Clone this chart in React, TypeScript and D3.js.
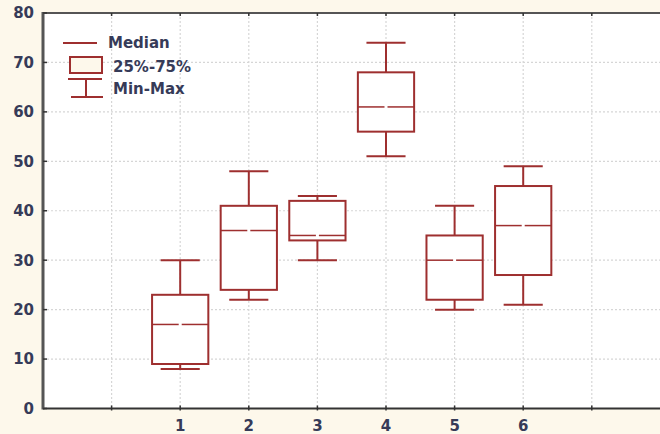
import React, { useEffect, useRef } from "react";
import * as d3 from "d3";

// box plot values per group
const groups = ["1", "2", "3", "4", "5", "6"];
const minVals = [8, 22, 30, 51, 20, 21];
const q1Vals = [9, 24, 34, 56, 22, 27];
const medianVals = [17, 36, 35, 61, 30, 37];
const q3Vals = [23, 41, 42, 68, 35, 45];
const maxVals = [30, 48, 43, 74, 41, 49];
const yTicks = [0, 10, 20, 30, 40, 50, 60, 70, 80];
const xTickPos = [1, 2, 3, 4, 5, 6, 7, 8];

const W = 660;
const H = 434;
const RED = "#9e2f2f";
const TEXT = "#363b58";
const FONT = "'DejaVu Sans', Verdana, sans-serif";

function App() {
  const ref = useRef<SVGSVGElement>(null);

  useEffect(() => {
    const svg = d3.select(ref.current);
    svg.selectAll("*").remove();

    const x = d3.scaleLinear().domain([0, 9]).range([43, 660.4]);
    const y = d3.scaleLinear().domain([0, 80]).range([408.5, 13]);

    // background
    svg.append("rect").attr("width", W).attr("height", H).attr("fill", "#fdf8eb");
    svg
      .append("rect")
      .attr("x", x(0))
      .attr("y", y(80))
      .attr("width", W - x(0))
      .attr("height", y(0) - y(80))
      .attr("fill", "#ffffff");

    // grid
    const grid = svg.append("g").attr("stroke", "#d6d6d6").attr("stroke-dasharray", "2,2").attr("stroke-width", 1.2);
    yTicks.slice(1, -1).forEach((t) => {
      grid.append("line").attr("x1", x(0)).attr("x2", W).attr("y1", y(t)).attr("y2", y(t));
    });
    xTickPos.forEach((t) => {
      grid.append("line").attr("x1", x(t)).attr("x2", x(t)).attr("y1", y(80)).attr("y2", y(0));
    });

    // axes
    svg
      .append("line")
      .attr("x1", x(0))
      .attr("x2", W)
      .attr("y1", y(80))
      .attr("y2", y(80))
      .attr("stroke", "#555")
      .attr("stroke-width", 2);
    svg
      .append("line")
      .attr("x1", x(0))
      .attr("x2", W)
      .attr("y1", y(0))
      .attr("y2", y(0))
      .attr("stroke", "#333")
      .attr("stroke-width", 2);
    svg
      .append("line")
      .attr("x1", x(0))
      .attr("x2", x(0))
      .attr("y1", y(80) - 1)
      .attr("y2", y(0) + 1)
      .attr("stroke", "#555")
      .attr("stroke-width", 3);

    // y ticks + labels
    yTicks.forEach((t) => {
      svg
        .append("line")
        .attr("x1", x(0))
        .attr("x2", x(0) + 4)
        .attr("y1", y(t))
        .attr("y2", y(t))
        .attr("stroke", "#333")
        .attr("stroke-width", 1.5);
      svg
        .append("text")
        .attr("x", 34)
        .attr("y", y(t))
        .attr("dy", "0.36em")
        .attr("text-anchor", "end")
        .attr("font-family", FONT)
        .attr("font-size", 15)
        .attr("font-weight", "bold")
        .attr("fill", TEXT)
        .text(t);
    });

    // x ticks
    xTickPos.forEach((t) => {
      [y(0), y(80)].forEach((yy, i) => {
        svg
          .append("line")
          .attr("x1", x(t))
          .attr("x2", x(t))
          .attr("y1", yy - (i === 0 ? 3 : 0))
          .attr("y2", yy + (i === 0 ? 2 : 3))
          .attr("stroke", "#333")
          .attr("stroke-width", 1.5);
      });
    });
    groups.forEach((g, i) => {
      svg
        .append("text")
        .attr("x", x(i + 2))
        .attr("y", 430.5)
        .attr("text-anchor", "middle")
        .attr("font-family", FONT)
        .attr("font-size", 15)
        .attr("font-weight", "bold")
        .attr("fill", TEXT)
        .text(g);
    });

    // boxes
    const boxW = 0.82;
    const capW = 0.57;
    const boxes = svg.append("g").attr("stroke", RED).attr("stroke-width", 2).attr("fill", "none");
    groups.forEach((g, i) => {
      const c = i + 2;
      // whiskers
      boxes.append("line").attr("x1", x(c)).attr("x2", x(c)).attr("y1", y(maxVals[i])).attr("y2", y(q3Vals[i]));
      boxes.append("line").attr("x1", x(c)).attr("x2", x(c)).attr("y1", y(q1Vals[i])).attr("y2", y(minVals[i]));
      [maxVals[i], minVals[i]].forEach((v) => {
        boxes
          .append("line")
          .attr("x1", x(c - capW / 2))
          .attr("x2", x(c + capW / 2))
          .attr("y1", y(v))
          .attr("y2", y(v));
      });
      boxes
        .append("rect")
        .attr("x", x(c - boxW / 2))
        .attr("y", y(q3Vals[i]))
        .attr("width", x(boxW) - x(0))
        .attr("height", y(q1Vals[i]) - y(q3Vals[i]))
        .attr("fill", "#ffffff");
      // median with a small gap at the centre
      boxes.append("line").attr("x1", x(c - boxW / 2)).attr("x2", x(c) - 1.5).attr("y1", y(medianVals[i])).attr("y2", y(medianVals[i])).attr("stroke-width", 1.5);
      boxes.append("line").attr("x1", x(c) + 1.5).attr("x2", x(c + boxW / 2)).attr("y1", y(medianVals[i])).attr("y2", y(medianVals[i])).attr("stroke-width", 1.5);
    });

    // legend
    const lg = svg.append("g").attr("stroke", RED).attr("stroke-width", 2).attr("fill", "none");
    lg.append("line").attr("x1", 63).attr("x2", 97).attr("y1", 43).attr("y2", 43);
    lg.append("rect").attr("x", 70).attr("y", 57).attr("width", 32).attr("height", 16).attr("fill", "#fdf8eb");
    lg.append("line").attr("x1", 68).attr("x2", 102).attr("y1", 79).attr("y2", 79);
    lg.append("line").attr("x1", 86).attr("x2", 86).attr("y1", 79).attr("y2", 97);
    lg.append("line").attr("x1", 71).attr("x2", 103).attr("y1", 97).attr("y2", 97);
    const labels: [string, number, number][] = [
      ["Median", 108, 43],
      ["25%-75%", 113, 67],
      ["Min-Max", 113, 89],
    ];
    labels.forEach(([t, lx, ly]) => {
      svg
        .append("text")
        .attr("x", lx)
        .attr("y", ly)
        .attr("dy", "0.36em")
        .attr("font-family", FONT)
        .attr("font-size", 15)
        .attr("font-weight", "bold")
        .attr("fill", TEXT)
        .text(t);
    });
  }, []);

  return <svg ref={ref} width={W} height={H} style={{ position: "absolute", left: 0, top: 0 }} />;
}

export default App;
